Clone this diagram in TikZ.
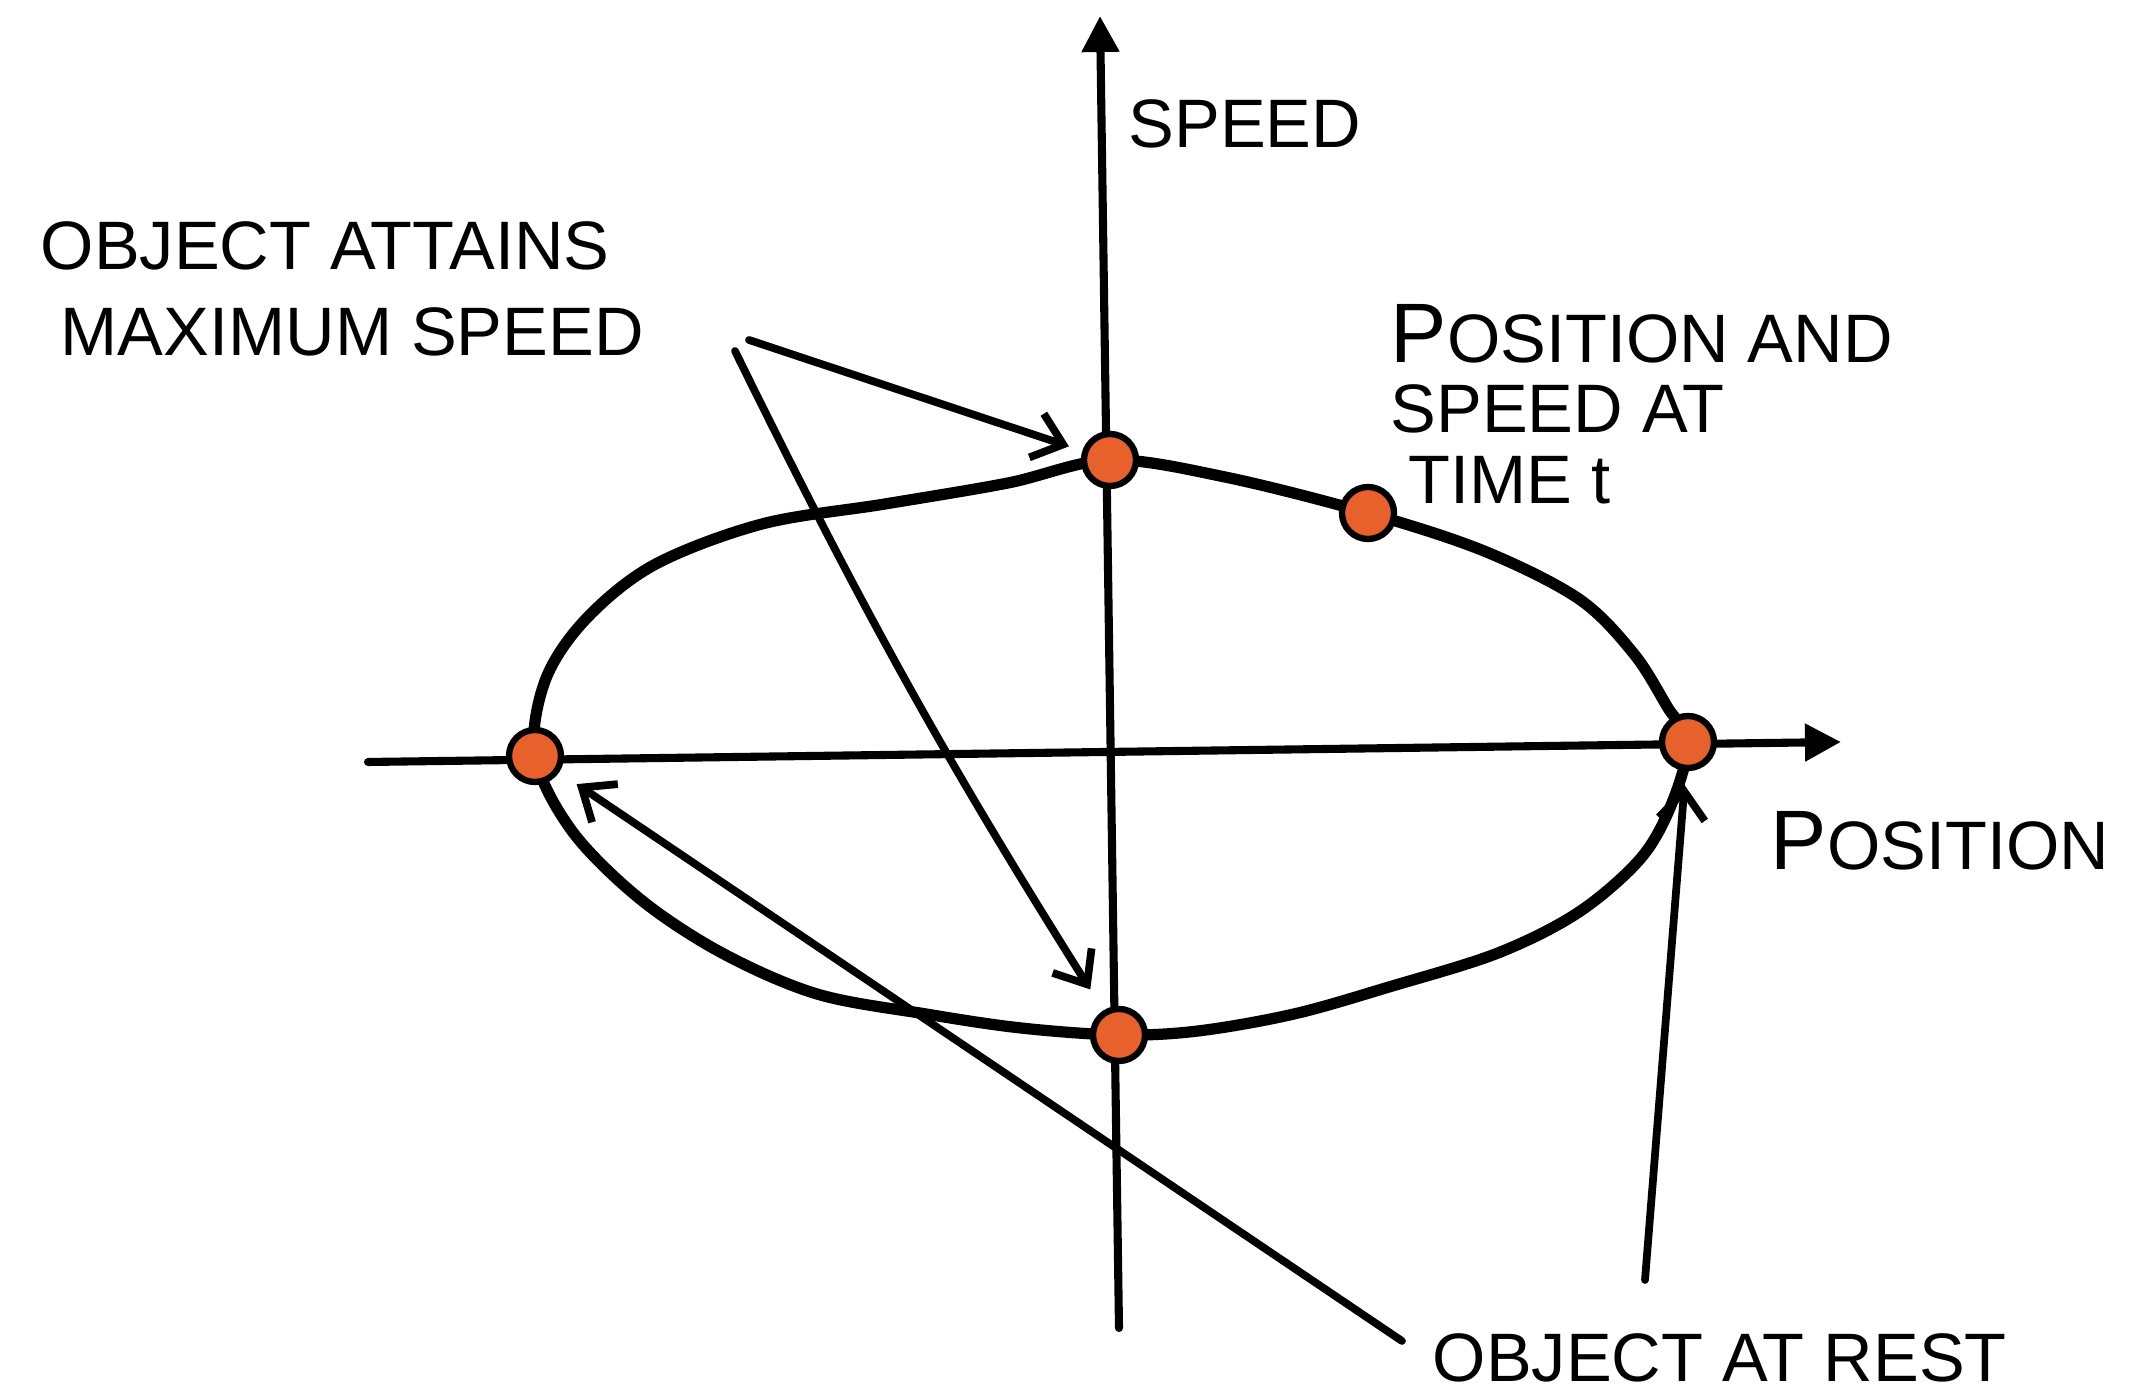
\documentclass[tikz,border=0pt]{standalone}
\usepackage{fontspec}
\setmainfont{Liberation Sans}
\usetikzlibrary{arrows.meta}
\definecolor{dotorange}{HTML}{E8612C}
\newcommand{\bigP}{{\fontsize{24}{24}\selectfont P}}

\begin{document}
\begin{tikzpicture}[x=0.01cm, y=-0.01cm, line cap=round, line join=round,
  every node/.style={font=\fontsize{19.5}{23}\selectfont, inner sep=0pt},
  axis/.style={line width=2.3pt, -{Triangle[length=0.36cm, width=0.36cm]}},
  callout/.style={line width=2.2pt, -{Straight Barb[length=0.28cm, width=0.46cm]}},
  state/.style={circle, draw, line width=1.8pt, fill=dotorange, minimum size=0.52cm}]
  \useasboundingbox (0,0) rectangle (2135,1395);

  % Axes
  \coordinate (xstart) at (368,762);
  \coordinate (xend)   at (1841,742);
  \coordinate (ystart) at (1119,1328);
  \coordinate (yend)   at (1100,16);
  \draw[axis] (xstart) -- (xend);
  \draw[axis] (ystart) -- (yend);
  \node[anchor=base west] (speedlbl) at (1128,148) {SPEED};
  \node[anchor=base west] (poslbl) at (1770,870) {\bigP OSITION};

  % Phase curve
  \draw[line width=3.2pt] plot[smooth cycle, tension=0.55] coordinates {
    (535,756) (545,681) (585,620) (654,565) (762,524) (885,504) (1008,483)
    (1110,460) (1225,477) (1368,513) (1484,551) (1579,599) (1634,654) (1668,708)
    (1688,742) (1672,803) (1641,858) (1579,912) (1498,953) (1389,987) (1294,1014)
    (1198,1031) (1119,1035) (1021,1028) (926,1014) (817,994) (722,953) (640,899)
    (572,831)};

  % States on the curve
  \node[state] (leftpt)   at (535,756) {};
  \node[state] (rightpt)  at (1688,742) {};
  \node[state] (toppt)    at (1110,460) {};
  \node[state] (bottompt) at (1119,1035) {};
  \node[state] (timept)   at (1368,513) {};

  % Labels
  \node[anchor=base west] (maxlbl1) at (40,270) {OBJECT ATTAINS};
  \node[anchor=base west] (maxlbl2) at (60,356) {MAXIMUM SPEED};
  \node[anchor=base west] (timelbl1) at (1390,363) {\bigP OSITION AND};
  \node[anchor=base west] (timelbl2) at (1390,433) {SPEED AT};
  \node[anchor=base west] (timelbl3) at (1408,504) {TIME t};
  \node[anchor=base west] (restlbl) at (1432,1382) {OBJECT AT REST};

  % Callouts
  \coordinate (maxfrom1) at (749,340);
  \coordinate (maxfrom2) at (735,351);
  \coordinate (restfrom1) at (1402,1341);
  \coordinate (restfrom2) at (1645,1280);
  \draw[callout, shorten >=4pt] (maxfrom1) -- (toppt);
  \draw[callout, shorten >=7pt] (maxfrom2) to[bend right=3] (bottompt);
  \draw[callout, shorten >=6pt] (restfrom1) -- (leftpt);
  \draw[callout, shorten >=4pt] (restfrom2) -- (rightpt);
\end{tikzpicture}
\end{document}
